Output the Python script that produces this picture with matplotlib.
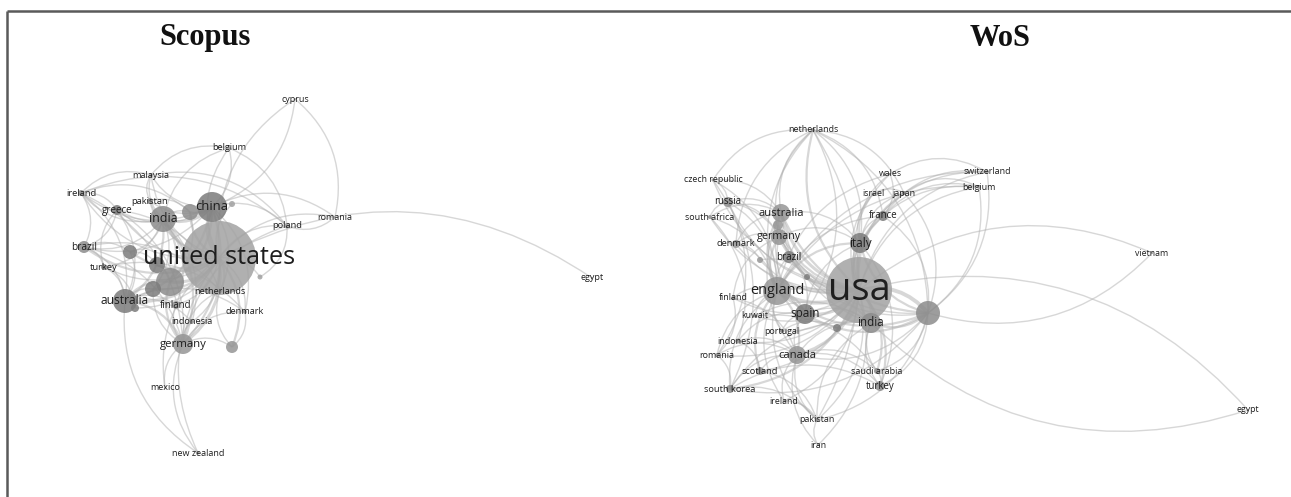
import matplotlib.pyplot as plt
from matplotlib.path import Path
from matplotlib.patches import PathPatch, Circle

# ---- Scopus map (positions, in pixels) ----
scopus_nodes = ['united states', 'china', 'india', 'australia', 'germany', 'greece',
                'brazil', 'turkey', 'ireland', 'malaysia', 'pakistan', 'belgium',
                'cyprus', 'poland', 'romania', 'egypt', 'netherlands', 'finland',
                'indonesia', 'denmark', 'mexico', 'new zealand',
                '_a', '_b', '_c', '_d', '_e', '_f', '_g', '_h', '_i']
scopus_x = [219, 212, 163, 125, 183, 117, 84, 104, 81, 151, 150, 229,
            295, 287, 335, 592, 220, 176, 192, 245, 165, 198,
            170, 153, 130, 190, 232, 157, 232, 260, 135]
scopus_y = [258, 207, 219, 301, 344, 210, 247, 267, 193, 175, 201, 148,
            99, 226, 217, 278, 291, 305, 322, 312, 388, 453,
            282, 289, 252, 212, 347, 265, 204, 277, 308]
scopus_size = [37, 15, 13, 12, 10, 5, 6, 3, 3, 2, 3, 2,
               1, 2.5, 1, 1, 2, 4, 2, 2, 1, 1.5,
               14, 8, 7, 8, 6, 8, 3, 2.5, 4]
scopus_cluster = [2, 3, 1, 3, 4, 3, 1, 1, 1, 2, 1, 2,
                  2, 2, 2, 2, 4, 4, 4, 4, 4, 4,
                  1, 3, 3, 1, 4, 3, 2, 2, 3]
scopus_links = [
    ('united states', 'china', 4), ('united states', 'india', 3), ('united states', 'australia', 3),
    ('united states', 'germany', 3), ('united states', 'greece', 1), ('united states', 'brazil', 2),
    ('united states', 'turkey', 1), ('united states', 'ireland', 1), ('united states', 'malaysia', 1),
    ('united states', 'pakistan', 1), ('united states', 'belgium', 1), ('united states', 'cyprus', 1),
    ('united states', 'poland', 1), ('united states', 'egypt', 1), ('united states', 'netherlands', 2),
    ('united states', 'finland', 1), ('united states', 'indonesia', 1), ('united states', 'denmark', 1),
    ('new zealand', 'united states', 1), ('mexico', 'united states', 1), ('united states', 'romania', 1),
    ('united states', '_a', 3), ('united states', '_b', 2), ('united states', '_c', 2),
    ('united states', '_d', 2), ('united states', '_e', 2), ('united states', '_f', 2),
    ('united states', '_g', 1), ('united states', '_h', 1), ('united states', '_i', 1),
    ('china', 'india', 3), ('china', 'australia', 2), ('china', 'germany', 2), ('belgium', 'china', 1),
    ('cyprus', 'china', 1), ('china', 'malaysia', 1), ('china', 'pakistan', 1), ('china', 'poland', 1),
    ('china', 'romania', 1), ('china', 'greece', 1), ('china', '_a', 2), ('china', '_d', 2),
    ('china', 'netherlands', 1), ('china', 'denmark', 1), ('china', 'brazil', 1), ('china', 'ireland', 1),
    ('india', 'australia', 2), ('india', 'germany', 2), ('india', 'greece', 1), ('india', 'pakistan', 1),
    ('india', 'malaysia', 1), ('india', 'brazil', 1), ('india', 'turkey', 1), ('india', 'ireland', 1),
    ('india', '_a', 2), ('india', '_b', 1), ('india', '_c', 1), ('india', '_d', 1),
    ('india', 'indonesia', 1), ('india', 'finland', 1), ('india', 'belgium', 1),
    ('australia', 'germany', 2), ('brazil', 'australia', 1), ('turkey', 'australia', 1),
    ('ireland', 'australia', 1), ('greece', 'australia', 1), ('australia', '_a', 2),
    ('australia', '_b', 1), ('_c', 'australia', 1), ('australia', '_i', 1), ('australia', 'indonesia', 1),
    ('australia', 'finland', 1), ('new zealand', 'australia', 1), ('australia', 'denmark', 1),
    ('mexico', 'germany', 1), ('new zealand', 'germany', 1), ('germany', 'denmark', 1),
    ('germany', 'indonesia', 1), ('germany', 'netherlands', 1), ('germany', 'finland', 1),
    ('germany', '_e', 1), ('germany', '_a', 2), ('germany', '_b', 1), ('germany', 'poland', 1),
    ('brazil', 'germany', 1), ('ireland', 'germany', 1), ('greece', 'germany', 1),
    ('greece', 'brazil', 1), ('ireland', 'greece', 1), ('turkey', 'greece', 1), ('malaysia', 'belgium', 1),
    ('pakistan', 'malaysia', 1), ('cyprus', 'romania', 1), ('belgium', 'poland', 1),
    ('romania', 'poland', 1), ('poland', '_h', 1), ('brazil', 'turkey', 1), ('ireland', 'brazil', 1),
    ('ireland', 'malaysia', 1), ('denmark', '_e', 1), ('_e', 'netherlands', 1), ('_d', '_a', 1),
    ('_c', '_f', 1), ('_f', '_a', 1), ('brazil', '_c', 1), ('turkey', '_i', 1), ('ireland', '_d', 1),
    ('brazil', 'netherlands', 1), ('ireland', 'poland', 1), ('turkey', 'denmark', 1),
    ('malaysia', 'poland', 1), ('greece', 'netherlands', 1), ('pakistan', '_d', 1),
]

# ---- WoS map ----
wos_nodes = ['usa', '_w1', 'italy', 'england', 'spain', 'india', 'canada', 'australia',
             'germany', '_w2', 'brazil', 'denmark', 'russia', 'south africa', 'czech republic',
             'netherlands', 'wales', 'israel', 'japan', 'france', 'switzerland', 'belgium',
             'vietnam', 'egypt', 'finland', 'kuwait', 'portugal', 'indonesia', 'romania',
             'scotland', 'south korea', 'ireland', 'pakistan', 'iran', 'saudi arabia', 'turkey',
             '_w3', '_w4', '_w5']
wos_x = [859, 928, 860, 777, 805, 871, 797, 781,
         779, 778, 789, 736, 728, 710, 713,
         813, 890, 873, 904, 883, 987, 979,
         1152, 1248, 733, 755, 782, 738, 717,
         760, 730, 784, 817, 818, 877, 880,
         837, 807, 760]
wos_y = [290, 313, 243, 291, 314, 323, 355, 213,
         237, 225, 257, 244, 202, 217, 180,
         130, 174, 194, 193, 216, 172, 187,
         253, 410, 298, 316, 331, 341, 355,
         371, 389, 401, 420, 445, 371, 386,
         328, 277, 260]
wos_size = [33, 12, 10, 14, 10, 10, 9, 9,
            8, 5, 6, 4, 5, 2, 1.5,
            2, 1, 1.5, 2, 5, 2, 2,
            1, 1, 2, 1.5, 2, 2.5, 2,
            4, 4, 1.5, 2, 1, 3, 5,
            4, 3, 3]
wos_cluster = [2, 1, 3, 4, 3, 1, 4, 4,
               4, 4, 3, 4, 1, 4, 4,
               1, 3, 3, 3, 3, 2, 2,
               1, 1, 4, 1, 3, 4, 4,
               4, 1, 4, 1, 1, 1, 1,
               3, 3, 4]
wos_links = [
    ('usa', '_w1', 4), ('usa', 'italy', 3), ('usa', 'england', 4), ('usa', 'spain', 3),
    ('usa', 'india', 3), ('usa', 'canada', 3), ('usa', 'australia', 3), ('usa', 'germany', 3),
    ('usa', 'brazil', 2), ('usa', 'denmark', 1), ('usa', 'russia', 1), ('usa', 'south africa', 1),
    ('usa', 'czech republic', 1), ('usa', 'netherlands', 2), ('usa', 'wales', 1), ('usa', 'israel', 1),
    ('usa', 'japan', 2), ('usa', 'france', 2), ('usa', 'switzerland', 1), ('usa', 'belgium', 1),
    ('usa', 'vietnam', 1), ('usa', 'egypt', 1), ('usa', 'finland', 1), ('usa', 'kuwait', 1),
    ('usa', 'portugal', 1), ('usa', 'indonesia', 1), ('usa', 'romania', 1), ('usa', 'scotland', 1),
    ('usa', 'south korea', 2), ('usa', 'ireland', 1), ('usa', 'pakistan', 1), ('usa', 'iran', 1),
    ('usa', 'saudi arabia', 2), ('usa', 'turkey', 2), ('usa', '_w2', 2), ('usa', '_w3', 2),
    ('usa', '_w4', 2), ('usa', '_w5', 1),
    ('vietnam', '_w1', 1), ('egypt', 'india', 1), ('_w1', 'england', 2), ('_w1', 'italy', 2),
    ('_w1', 'australia', 2), ('_w1', 'germany', 1), ('_w1', 'spain', 2), ('_w1', 'india', 2),
    ('_w1', 'canada', 1), ('switzerland', '_w1', 1), ('belgium', '_w1', 1), ('japan', '_w1', 1),
    ('france', '_w1', 1), ('netherlands', '_w1', 1), ('_w1', 'saudi arabia', 1), ('_w1', 'turkey', 1),
    ('_w1', 'south korea', 1), ('_w1', 'pakistan', 1), ('_w1', 'brazil', 1),
    ('england', 'spain', 2), ('england', 'italy', 2), ('england', 'australia', 2),
    ('england', 'germany', 2), ('england', 'canada', 2), ('england', 'india', 2),
    ('england', 'brazil', 1), ('finland', 'england', 1), ('scotland', 'england', 2),
    ('ireland', 'england', 1), ('england', 'netherlands', 1), ('england', 'wales', 1),
    ('denmark', 'england', 1), ('russia', 'england', 1), ('south africa', 'england', 1),
    ('kuwait', 'england', 1), ('portugal', 'england', 1), ('romania', 'england', 1),
    ('south korea', 'england', 1), ('england', 'switzerland', 1), ('england', 'belgium', 1),
    ('england', 'france', 1), ('pakistan', 'england', 1), ('czech republic', 'england', 1),
    ('australia', 'germany', 1), ('australia', 'italy', 1), ('canada', 'australia', 1),
    ('india', 'australia', 1), ('spain', 'australia', 1), ('australia', 'netherlands', 1),
    ('russia', 'australia', 1), ('czech republic', 'australia', 1), ('south africa', 'australia', 1),
    ('denmark', 'australia', 1), ('germany', 'italy', 1), ('spain', 'germany', 1),
    ('germany', 'brazil', 1), ('germany', 'netherlands', 1), ('denmark', 'germany', 1),
    ('russia', 'germany', 1), ('spain', 'italy', 1), ('canada', 'spain', 1), ('portugal', 'spain', 1),
    ('brazil', 'spain', 1), ('spain', 'india', 1), ('canada', 'india', 1), ('south korea', 'canada', 1),
    ('scotland', 'canada', 1), ('indonesia', 'canada', 1), ('romania', 'canada', 1),
    ('ireland', 'canada', 1), ('pakistan', 'canada', 1), ('iran', 'canada', 1),
    ('canada', 'saudi arabia', 1), ('canada', 'turkey', 1), ('saudi arabia', 'india', 1),
    ('turkey', 'india', 1), ('pakistan', 'india', 1), ('south korea', 'india', 1), ('india', 'italy', 1),
    ('italy', 'france', 1), ('italy', 'israel', 1), ('italy', 'japan', 1), ('italy', 'belgium', 1),
    ('italy', 'switzerland', 1), ('netherlands', 'italy', 1), ('italy', 'wales', 1),
    ('france', 'switzerland', 1), ('france', 'belgium', 1), ('japan', 'belgium', 1),
    ('wales', 'switzerland', 1), ('netherlands', 'pakistan', 1), ('denmark', 'netherlands', 1),
    ('netherlands', 'spain', 1), ('czech republic', 'south korea', 1), ('russia', 'romania', 1),
    ('south africa', 'indonesia', 1), ('finland', 'romania', 1), ('kuwait', 'saudi arabia', 1),
    ('south korea', 'turkey', 1), ('iran', 'pakistan', 1), ('czech republic', 'netherlands', 1),
    ('russia', 'brazil', 1), ('denmark', '_w5', 1), ('_w5', '_w4', 1), ('_w3', 'india', 1),
    ('portugal', '_w3', 1), ('indonesia', 'spain', 1), ('ireland', 'pakistan', 1),
    ('south korea', 'pakistan', 1), ('scotland', 'pakistan', 1), ('finland', 'germany', 1),
    ('romania', 'south korea', 1), ('indonesia', 'scotland', 1), ('israel', 'japan', 1),
    ('netherlands', 'japan', 1), ('netherlands', 'france', 1), ('wales', 'france', 1),
    ('czech republic', 'russia', 1), ('south africa', 'russia', 1), ('italy', 'turkey', 1),
    ('saudi arabia', 'turkey', 1), ('kuwait', 'india', 1), ('finland', 'canada', 1),
]

gray_by_cluster = {1: '#8c8c8c', 2: '#a2a2a2', 3: '#7c7c7c', 4: '#959595'}


def draw_map(ax, names, xs, ys, sizes, clusters, links, label_coef):
    pos = {n: (x, y) for n, x, y in zip(names, xs, ys)}
    # curved links, always bending the same way (VOSviewer style)
    for a, b, w in links:
        x0, y0 = pos[a]
        x1, y1 = pos[b]
        dx, dy = x1 - x0, y1 - y0
        cx = (x0 + x1) / 2 + 0.3 * dy
        cy = (y0 + y1) / 2 - 0.3 * dx
        path = Path([(x0, y0), (cx, cy), (x1, y1)], [Path.MOVETO, Path.CURVE3, Path.CURVE3])
        ax.add_patch(PathPatch(path, fill=False, ec='#b0b0b0', lw=0.4 + 0.6 * w,
                               alpha=0.5, zorder=1))
    # nodes
    for n, x, y, r, c in zip(names, xs, ys, sizes, clusters):
        ax.add_patch(Circle((x, y), r, fc=gray_by_cluster[c], ec='none', alpha=0.85, zorder=2))
    # labels
    a0, a1, a2 = label_coef
    for n, x, y, r in zip(names, xs, ys, sizes):
        if n.startswith('_'):
            continue
        fs = a0 + a1 * r + a2 * r * r
        ax.text(x, y, n, ha='center', va='center', fontsize=fs, family='Open Sans',
                color='#1e1e1e', zorder=3)


fig = plt.figure(figsize=(12.91, 4.97), dpi=100)
ax = fig.add_axes([0, 0, 1, 1])
ax.set_xlim(0, 1291)
ax.set_ylim(497, 0)
ax.axis('off')

draw_map(ax, scopus_nodes, scopus_x, scopus_y, scopus_size, scopus_cluster,
         scopus_links, (6.3, 0.14, 0.0048))
draw_map(ax, wos_nodes, wos_x, wos_y, wos_size, wos_cluster,
         wos_links, (6.2, 0.05, 0.018))

# panel titles
ax.text(205, 38, 'Scopus', ha='center', va='center', fontsize=22, fontweight='bold',
        family='Liberation Serif', color='#111')
ax.text(1000, 38, 'WoS', ha='center', va='center', fontsize=22, fontweight='bold',
        family='Liberation Serif', color='#111')

# frame (top and left only)
ax.plot([7, 1291], [11, 11], color='#5a5a5a', lw=1.8, solid_capstyle='butt')
ax.plot([7, 7], [11, 497], color='#5a5a5a', lw=1.8, solid_capstyle='butt')

plt.savefig('out.png', dpi=100)
